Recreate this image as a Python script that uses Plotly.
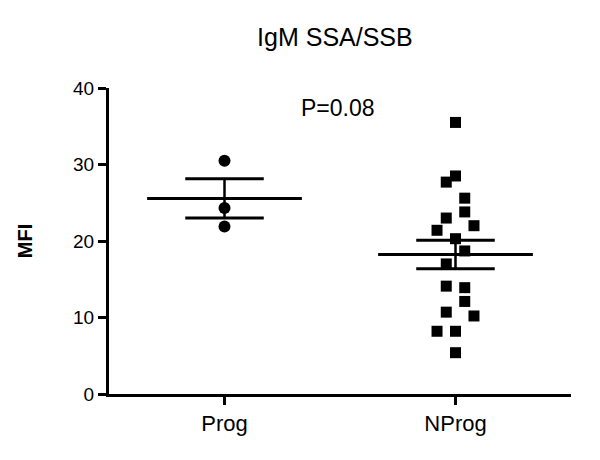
import numpy as np
import plotly.graph_objects as go

categories = ["Prog", "NProg"]
prog_values = [30.5, 24.3, 21.9]
prog_jitter = [0.0, 0.0, 0.0]
nprog_values = [35.5, 28.5, 27.7, 25.6, 23.8, 23.0, 22.0, 21.4, 20.3, 18.7,
                17.0, 14.1, 13.9, 12.1, 10.7, 10.2, 8.2, 8.2, 5.4]
nprog_jitter = [0.0, 0.0, -0.04, 0.04, 0.04, -0.04, 0.08, -0.08, 0.0, 0.04,
                -0.04, -0.04, 0.04, 0.04, -0.04, 0.08, -0.08, 0.0, 0.0]
y_ticks = [0, 10, 20, 30, 40]
p_text = "P=0.08"
title_text = "IgM SSA/SSB"
y_label = "MFI"

FONT = "Liberation Sans, Arial, sans-serif"
fig = go.Figure()

groups = [(1, prog_values, prog_jitter, "circle", 12),
          (2, nprog_values, nprog_jitter, "square", 11)]
for xc, vals, jit, sym, sz in groups:
    v = np.array(vals)
    mean = v.mean()
    sem = v.std(ddof=1) / np.sqrt(len(v))
    fig.add_trace(go.Scatter(x=[xc + j for j in jit], y=vals, mode="markers",
                             marker=dict(symbol=sym, size=sz, color="black"),
                             showlegend=False, hoverinfo="y"))
    # mean line
    fig.add_trace(go.Scatter(x=[xc - 0.335, xc + 0.335], y=[mean, mean], mode="lines",
                             line=dict(color="black", width=3), showlegend=False))
    # SEM caps and stem
    for yy in (mean + sem, mean - sem):
        fig.add_trace(go.Scatter(x=[xc - 0.17, xc + 0.17], y=[yy, yy], mode="lines",
                                 line=dict(color="black", width=3), showlegend=False))
    fig.add_trace(go.Scatter(x=[xc, xc], y=[mean - sem, mean + sem], mode="lines",
                             line=dict(color="black", width=2.5), showlegend=False))

fig.add_annotation(x=1.49, y=37.4, text=p_text, showarrow=False,
                   font=dict(family=FONT, size=23, color="black"),
                   xanchor="center", yanchor="middle")

fig.update_layout(
    width=600, height=460,
    margin=dict(l=101, r=37, t=80, b=74),
    paper_bgcolor="white", plot_bgcolor="white",
    title=dict(text=title_text, x=0.489, xref="paper", y=1 - 29 / 460,
               yref="container", xanchor="center", yanchor="middle",
               font=dict(family=FONT, size=25, color="black")),
    font=dict(family=FONT, color="black"),
)
fig.update_xaxes(range=[0.5, 2.5], tickvals=[1, 2], ticktext=categories,
                 showline=True, linecolor="black", linewidth=3,
                 ticks="outside", ticklen=8, tickwidth=3, tickcolor="black",
                 showgrid=False, zeroline=False,
                 tickfont=dict(family=FONT, size=22, color="black"))
fig.update_yaxes(range=[0, 40], tickvals=y_ticks,
                 showline=True, linecolor="black", linewidth=3,
                 ticks="outside", ticklen=8, tickwidth=3, tickcolor="black",
                 showgrid=False, zeroline=False,
                 title=dict(text="<b>" + y_label + "</b>", standoff=36,
                            font=dict(family=FONT, size=20, color="black")),
                 tickfont=dict(family=FONT, size=19, color="black"))

fig.write_html("out.html")
